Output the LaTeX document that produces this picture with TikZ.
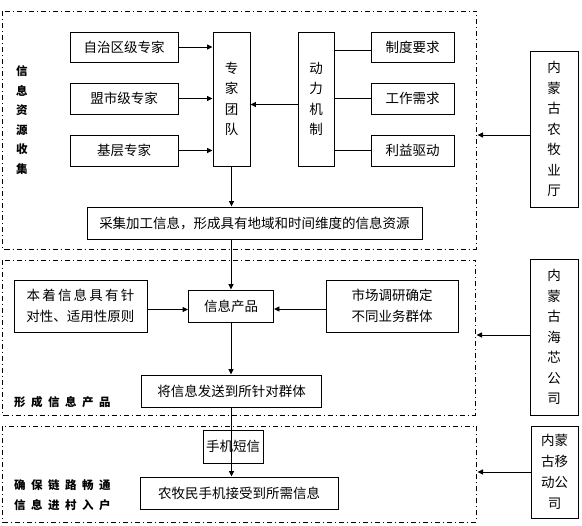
\documentclass[tikz,border=0pt]{standalone}
\usepackage{fontspec}
\newfontfamily\cjk{Noto Sans CJK SC}
\usetikzlibrary{arrows.meta}
\tikzset{
  box/.style={draw, line width=0.9pt, rectangle, inner sep=0pt, align=center,
    font=\cjk\fontsize{13.5}{21}\selectfont},
  vbox/.style={box, font=\cjk\fontsize{13.5}{20.5}\selectfont},
  frame/.style={line width=0.9pt, dash pattern=on 5pt off 3pt on 1pt off 3pt},
  arr/.style={line width=0.9pt, -{Triangle[length=5.5pt,width=5pt]}},
  ln/.style={line width=0.9pt},
  lbl/.style={font=\cjk\bfseries\fontsize{11.5}{19.5}\selectfont, inner sep=0pt, align=center},
}
\newcommand{\lsp}{\hspace{5.5pt}}
\begin{document}
\begin{tikzpicture}[x=1pt,y=-1pt]
\useasboundingbox (0,0) rectangle (582,526);
% frames
\draw[frame] (2.5,11) rectangle (476,249);
\draw[frame] (2.5,260) rectangle (475,415);
\draw[frame] (2.5,426) rectangle (476,522);
\coordinate (f1e) at (477.5,135);
\coordinate (f2e) at (476.5,335);
\coordinate (f3e) at (477.5,472);
% section 1
\node[box, minimum width=108pt, minimum height=30pt] (zzq) at (124,47) {自治区级专家};
\node[box, minimum width=108pt, minimum height=31pt] (msj) at (124,98.5) {盟市级专家};
\node[box, minimum width=108pt, minimum height=31pt] (jc) at (124,150.5) {基层专家};
\node[vbox, minimum width=37pt, minimum height=134pt] (zjtd) at (231.5,99) {专\\家\\团\\队};
\node[vbox, minimum width=36pt, minimum height=134pt] (dljz) at (316,99) {动\\力\\机\\制};
\node[box, minimum width=83pt, minimum height=30pt] (zd) at (412.5,47) {制度要求};
\node[box, minimum width=83pt, minimum height=31pt] (gz) at (412.5,98.5) {工作需求};
\node[box, minimum width=83pt, minimum height=31pt] (ly) at (412.5,150.5) {利益驱动};
\node[box, minimum width=335pt, minimum height=32pt] (cj) at (254.5,223) {采集加工信息，形成具有地域和时间维度的信息资源};
\node[vbox, minimum width=48pt, minimum height=156pt] (nmg1) at (554,129) {内\\蒙\\古\\农\\牧\\业\\厅};
\node[lbl] (l1) at (22,120) {信\\息\\资\\源\\收\\集};
\draw[arr] (zzq) -- (zzq -| zjtd.west);
\draw[arr] (msj) -- (msj -| zjtd.west);
\draw[arr] (jc) -- (jc -| zjtd.west);
\draw[arr] ([yshift=-5.5pt]dljz.west) -- ([yshift=-5.5pt]dljz.west -| zjtd.east);
\draw[ln] ([yshift=-3.5pt]zd.west) -- ([yshift=-3.5pt]zd.west -| dljz.east);
\draw[ln] (gz) -- (gz -| dljz.east);
\draw[ln] (ly) -- (ly -| dljz.east);
\draw[arr] (zjtd.south) -- (zjtd.south |- cj.north);
\draw[arr] (nmg1.west |- f1e) -- (f1e);
% section 2
\node[box, minimum width=133pt, minimum height=52pt] (bz) at (80.5,306)
  {本\hspace{2.2pt}着\hspace{2.2pt}信\hspace{2.2pt}息\hspace{2.2pt}具\hspace{2.2pt}有\hspace{2.2pt}针\\对性、适用性原则};
\node[box, minimum width=85pt, minimum height=32pt] (xxcp) at (231,306) {信息产品};
\node[box, minimum width=132pt, minimum height=52pt] (scdy) at (392,306) {市场调研确定\\不同业务群体};
\node[box, minimum width=180pt, minimum height=32pt] (jxx) at (231.5,391) {将信息发送到所针对群体};
\node[vbox, minimum width=48pt, minimum height=156pt] (nmg2) at (554,337) {内\\蒙\\古\\海\\芯\\公\\司};
\node[lbl, anchor=west] (l2) at (14,402) {形\lsp 成\lsp 信\lsp 息\lsp 产\lsp 品};
\draw[arr] (cj.south -| xxcp.north) -- (xxcp.north);
\draw[arr] ([yshift=-3.5pt]bz.east) -- ([yshift=-3.5pt]bz.east -| xxcp.west);
\draw[arr] ([yshift=-3pt]scdy.west) -- ([yshift=-3pt]scdy.west -| xxcp.east);
\draw[arr] (xxcp.south) -- (xxcp.south |- jxx.north);
\draw[arr] (nmg2.west |- f2e) -- (f2e);
% section 3
\node[box, minimum width=60pt, minimum height=33pt] (sjdx) at (233,446.5) {手机短信};
\node[box, minimum width=198pt, minimum height=32pt] (nmm) at (239,493) {农牧民手机接受到所需信息};
\node[box, minimum width=47pt, minimum height=92pt] (nmg3) at (554.5,472) {内蒙\\古移\\动公\\司};
\node[lbl, anchor=west] (l3) at (14,485) {确\lsp 保\lsp 链\lsp 路\lsp 畅\lsp 通};
\node[lbl, anchor=west] (l4) at (14,505) {信\lsp 息\lsp 进\lsp 村\lsp 入\lsp 户};
\draw[arr] (jxx.south) -- (jxx.south |- nmm.north);
\draw[arr] (nmg3.west |- f3e) -- (f3e);
\end{tikzpicture}
\end{document}
